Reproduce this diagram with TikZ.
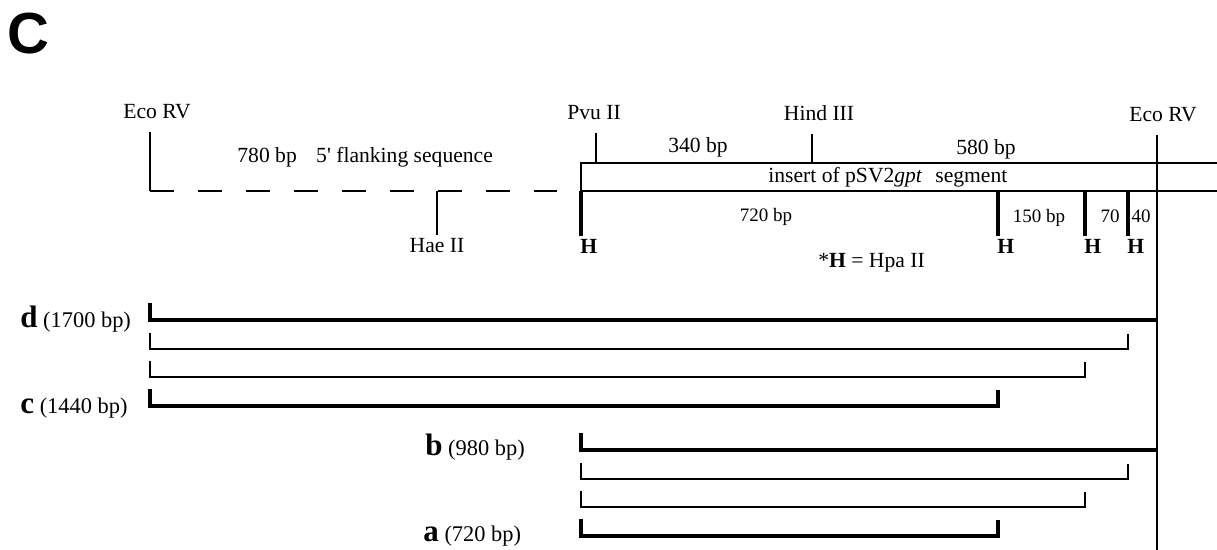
\documentclass[tikz,border=0pt]{standalone}
\usepackage{fontspec}
\setmainfont{Liberation Serif}
\newfontfamily\panelfont{Liberation Sans}
\usetikzlibrary{positioning}
\tikzset{
  sitelabel/.style={font=\fontsize{10.8}{13}\selectfont, inner sep=0pt, anchor=base},
  smalllabel/.style={font=\fontsize{9.5}{11}\selectfont, inner sep=0pt, anchor=base},
  hpalabel/.style={font=\fontsize{10.8}{13}\selectfont\bfseries, inner sep=0pt, anchor=base west},
  fraglabel/.style={font=\fontsize{11.2}{13}\selectfont, inner sep=0pt, anchor=base west},
  mapline/.style={line width=0.8pt},
  hpatick/.style={line width=2pt},
  flankline/.style={line width=1.1pt, dash pattern=on 12pt off 12pt},
  thinfrag/.style={line width=0.7pt},
  thickfrag/.style={line width=1.8pt}
}
\newcommand{\fragname}[1]{{\fontsize{15.5}{18}\selectfont\bfseries #1}}

\begin{document}
\begin{tikzpicture}[x=0.5pt, y=-0.5pt]
  \useasboundingbox (0,0) rectangle (1217,550);

  \node[inner sep=0pt, font=\fontsize{29}{30}\selectfont\panelfont\bfseries] (panel) at (28,34) {C};

  % sites on the map
  \coordinate (ecoL) at (150,191);
  \coordinate (hae) at (437,191);
  \coordinate (pvu) at (596,163);
  \coordinate (hind) at (812,163);
  \coordinate (ecoR) at (1157,163);

  \node[sitelabel] (ecoLname) at (157,119) {Eco RV};
  \node[sitelabel] (pvuname) at (594,120) {Pvu II};
  \node[sitelabel] (hindname) at (819,121) {Hind III};
  \node[sitelabel] (ecoRname) at (1163,122) {Eco RV};
  \node[sitelabel] (haename) at (437,253) {Hae II};

  \node[sitelabel, anchor=base west] (flank) at (237,163)
    {780 bp\hspace{0.9em}5\textquotesingle{} flanking sequence};
  \node[sitelabel] (len340) at (698,153) {340 bp};
  \node[sitelabel] (len580) at (986,155) {580 bp};
  \node[sitelabel, anchor=base west] (insert) at (768,183)
    {insert of pSV2\textit{gpt}\hspace{0.6em}segment};

  % insert box and flank
  \draw[mapline] (1217,163) -- (581,163) -- (581,191) -- (1217,191);
  \draw[mapline] (150,132) -- (ecoL);
  \draw[flankline] (ecoL) -- (557,191);
  \draw[mapline] (hae) -- (437,235);
  \draw[mapline] (596,133) -- (pvu);
  \draw[mapline] (812,134) -- (hind);
  \draw[line width=1pt] (1157,135) -- (1157,550);

  % Hpa II sites
  \foreach \hx/\hname in {581/h1, 998/h2, 1085/h3, 1128/h4} {
    \draw[hpatick] (\hx,191) -- (\hx,236);
    \node[hpalabel] (\hname) at (\hx-1,254) {H};
  }
  \node[smalllabel] (len720) at (766,222) {720 bp};
  \node[smalllabel] (len150) at (1039,223) {150 bp};
  \node[smalllabel] (len70) at (1110,223) {70};
  \node[smalllabel] (len40) at (1141,223) {40};
  \node[sitelabel, anchor=base west] (key) at (818,268)
    {*\textbf{H} = Hpa II};

  % PCR fragments
  \foreach \lx/\ty in {150/320, 581/450} {
    \draw[thickfrag] (\lx,\ty-17) -- (\lx,\ty) -- (1157,\ty);
    \draw[thinfrag] (\lx,\ty+13) -- (\lx,\ty+29) -- (1128,\ty+29) -- (1128,\ty+14);
    \draw[thinfrag] (\lx,\ty+41) -- (\lx,\ty+57) -- (1085,\ty+57) -- (1085,\ty+42);
    \draw[thickfrag] (\lx,\ty+69) -- (\lx,\ty+86) -- (998,\ty+86) -- (998,\ty+70);
  }

  \node[fraglabel] (fragd) at (20,328) {\fragname{d} (1700 bp)};
  \node[fraglabel] (fragc) at (20,414) {\fragname{c} (1440 bp)};
  \node[fraglabel] (fragb) at (425,456) {\fragname{b} (980 bp)};
  \node[fraglabel] (fraga) at (423,542) {\fragname{a} (720 bp)};
\end{tikzpicture}
\end{document}
